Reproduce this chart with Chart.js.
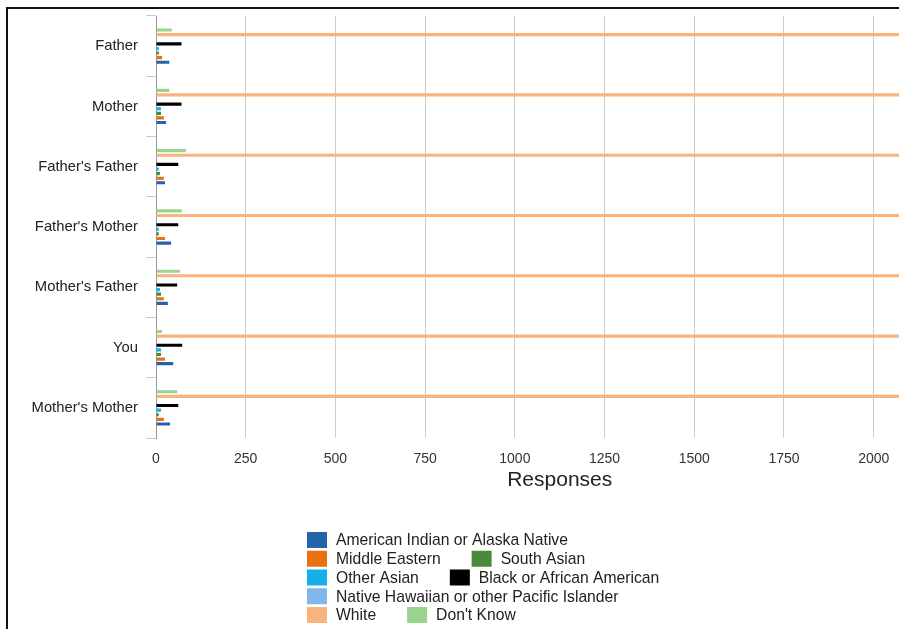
<!DOCTYPE html>
<html>
<head>
<meta charset="utf-8">
<script src="https://cdn.jsdelivr.net/npm/chart.js@4.4.0/dist/chart.umd.min.js"></script>
<style>
  html, body { margin: 0; padding: 0; background: #fff; overflow: hidden; }
  #frame {
    position: absolute; left: 6px; top: 7px;
    border-top: 2px solid #111; border-left: 2px solid #111;
    width: 990px; height: 620px;
  }
  #frame canvas { display: block; }
</style>
</head>
<body>
<div id="frame"><canvas id="ancestry"></canvas></div>
<script>
// relatives asked about (y axis)
var relatives = ['Father', 'Mother', "Father's Father", "Father's Mother",
                 "Mother's Father", 'You', "Mother's Mother"];

// legend order
var groups = ['American Indian or Alaska Native', 'Middle Eastern', 'South Asian',
              'Other Asian', 'Black or African American',
              'Native Hawaiian or other Pacific Islander', 'White', "Don't Know"];

var colours = ['#2463aa', '#e8720f', '#4a8b3b', '#14b0e6', '#000000',
               '#7fb7ee', '#f7b47c', '#9ad48e'];

// responses per relative, one list per group
var americanIndian = [37, 28, 25, 42, 33, 48, 39];
var middleEastern  = [17, 22, 22, 25, 22, 25, 22];
var southAsian     = [8, 14, 11, 8, 14, 14, 8];
var otherAsian     = [8, 14, 8, 8, 11, 14, 14];
var black          = [71, 71, 62, 62, 59, 73, 62];
var nativeHawaiian = [2, 2, 2, 2, 2, 2, 2];
var white          = [2180, 2195, 2150, 2160, 2170, 2210, 2175];
var dontKnow       = [44, 37, 84, 72, 67, 17, 59];

var xTicks = [0, 250, 500, 750, 1000, 1250, 1500, 1750, 2000, 2250];

var values = [americanIndian, middleEastern, southAsian, otherAsian,
              black, nativeHawaiian, white, dontKnow];

// google-style drawing: last legend entry sits on top of each group
var datasets = groups.map(function (g, i) {
  return { label: g, data: values[i], backgroundColor: colours[i] };
}).reverse();

// legend rows as laid out under the chart
var legendRows = [[0], [1, 2], [3, 4], [5], [6, 7]];

var rowLegend = {
  id: 'rowLegend',
  afterDraw: function (chart) {
    var ctx = chart.ctx;
    ctx.save();
    ctx.font = '15.7px "Liberation Sans", Arial, sans-serif';
    ctx.textBaseline = 'middle';
    legendRows.forEach(function (row, r) {
      var x = 299;
      var y = 531 + r * 18.75;
      row.forEach(function (idx) {
        ctx.fillStyle = colours[idx];
        ctx.fillRect(x, y - 8, 20, 16);
        ctx.fillStyle = '#222';
        ctx.fillText(groups[idx], x + 29, y + 1);
        x += 29 + ctx.measureText(groups[idx]).width + 31;
      });
    });
    ctx.restore();
  }
};

Chart.defaults.font.family = '"Liberation Sans", Arial, sans-serif';

var config = {
  type: 'bar',
  data: { labels: relatives, datasets: datasets },
  options: {
    indexAxis: 'y',
    responsive: false,
    animation: false,
    categoryPercentage: 0.61,
    barPercentage: 0.68,
    layout: { padding: { top: 7, right: 10, bottom: 136, left: 0 } },
    plugins: {
      legend: { display: false },
      tooltip: { enabled: false }
    },
    scales: {
      x: {
        min: 0,
        max: 2250,
        afterBuildTicks: function (s) { s.ticks = xTicks.map(function (v) { return { value: v }; }); },
        afterFit: function (s) { s.height = 55; },
        grid: { color: '#cccccc', drawTicks: false },
        border: { display: false },
        ticks: {
          color: '#333', font: { size: 14 }, padding: 13, maxRotation: 0,
          callback: function (v) { return String(v); }
        },
        title: { display: true, text: 'Responses', color: '#222', font: { size: 21 }, padding: 0 }
      },
      y: {
        afterFit: function (s) { s.width = 148; s.paddingTop = 0; s.paddingBottom = 0; },
        grid: { offset: true, drawOnChartArea: false, tickLength: 10, color: '#c8c8c8' },
        border: { display: true, color: '#999' },
        ticks: { color: '#222', font: { size: 14.8 }, padding: 8 }
      }
    }
  },
  plugins: [rowLegend]
};

window.onload = function () {
  var cv = document.getElementById('ancestry');
  cv.width = 984;
  cv.height = 620;
  new Chart(cv.getContext('2d'), config);
};
</script>
</body>
</html>
